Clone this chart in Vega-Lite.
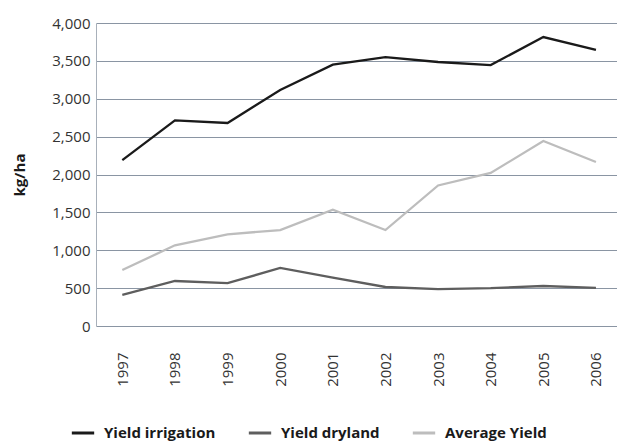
{
  "$schema": "https://vega.github.io/schema/vega-lite/v6.json",
  "width": 521,
  "height": 303,
  "autosize": {"type": "none"},
  "padding": {"left": 96, "top": 23, "right": 0, "bottom": 115},
  "background": "white",
  "config": {
    "view": {"stroke": null},
    "font": "Open Sans"
  },
  "data": {
    "values": [
      {"year": 1997, "series": "Yield irrigation", "v": 2190},
      {"year": 1998, "series": "Yield irrigation", "v": 2715},
      {"year": 1999, "series": "Yield irrigation", "v": 2680},
      {"year": 2000, "series": "Yield irrigation", "v": 3115},
      {"year": 2001, "series": "Yield irrigation", "v": 3450},
      {"year": 2002, "series": "Yield irrigation", "v": 3550},
      {"year": 2003, "series": "Yield irrigation", "v": 3485},
      {"year": 2004, "series": "Yield irrigation", "v": 3445},
      {"year": 2005, "series": "Yield irrigation", "v": 3815},
      {"year": 2006, "series": "Yield irrigation", "v": 3645},
      {"year": 1997, "series": "Yield dryland", "v": 410},
      {"year": 1998, "series": "Yield dryland", "v": 594},
      {"year": 1999, "series": "Yield dryland", "v": 565},
      {"year": 2000, "series": "Yield dryland", "v": 766},
      {"year": 2001, "series": "Yield dryland", "v": 640},
      {"year": 2002, "series": "Yield dryland", "v": 515},
      {"year": 2003, "series": "Yield dryland", "v": 488},
      {"year": 2004, "series": "Yield dryland", "v": 500},
      {"year": 2005, "series": "Yield dryland", "v": 528},
      {"year": 2006, "series": "Yield dryland", "v": 502},
      {"year": 1997, "series": "Average Yield", "v": 739},
      {"year": 1998, "series": "Average Yield", "v": 1065},
      {"year": 1999, "series": "Average Yield", "v": 1210},
      {"year": 2000, "series": "Average Yield", "v": 1267},
      {"year": 2001, "series": "Average Yield", "v": 1535},
      {"year": 2002, "series": "Average Yield", "v": 1267},
      {"year": 2003, "series": "Average Yield", "v": 1855},
      {"year": 2004, "series": "Average Yield", "v": 2020},
      {"year": 2005, "series": "Average Yield", "v": 2442},
      {"year": 2006, "series": "Average Yield", "v": 2165}
    ]
  },
  "mark": {"type": "line", "strokeWidth": 2.3},
  "encoding": {
    "x": {
      "field": "year",
      "type": "quantitative",
      "scale": {"domain": [1996.5, 2006.4], "nice": false, "zero": false},
      "axis": {
        "title": null,
        "values": [1997, 1998, 1999, 2000, 2001, 2002, 2003, 2004, 2005, 2006],
        "format": "d",
        "labelAngle": -90,
        "labelAlign": "right",
        "labelBaseline": "middle",
        "labelFontSize": 15,
        "labelColor": "#333333",
        "labelPadding": 26,
        "ticks": false,
        "grid": false,
        "domain": false
      }
    },
    "y": {
      "field": "v",
      "type": "quantitative",
      "scale": {"domain": [0, 4000], "nice": false},
      "axis": {
        "title": "kg/ha",
        "titleFontSize": 15,
        "titleFontWeight": "bold",
        "titleColor": "#1a1a1a",
        "titlePadding": 24,
        "values": [0, 500, 1000, 1500, 2000, 2500, 3000, 3500, 4000],
        "format": ",.0f",
        "labelFontSize": 15,
        "labelColor": "#333333",
        "labelPadding": 6,
        "ticks": false,
        "domainColor": "#a8b0ba",
        "gridColor": "#8a95a3",
        "gridWidth": 1.2,
        "gridOpacity": 1
      }
    },
    "color": {
      "field": "series",
      "type": "nominal",
      "scale": {
        "domain": ["Yield irrigation", "Yield dryland", "Average Yield"],
        "range": ["#1a1a1a", "#5e5e5e", "#bdbdbd"]
      },
      "legend": {
        "title": null,
        "orient": "none",
        "legendX": -26,
        "legendY": 397,
        "direction": "horizontal",
        "symbolType": "stroke",
        "symbolSize": 500,
        "symbolStrokeWidth": 3,
        "labelFontSize": 15,
        "labelFontWeight": "bold",
        "labelColor": "#1a1a1a",
        "columnPadding": 26,
        "labelOffset": 8
      }
    }
  }
}
